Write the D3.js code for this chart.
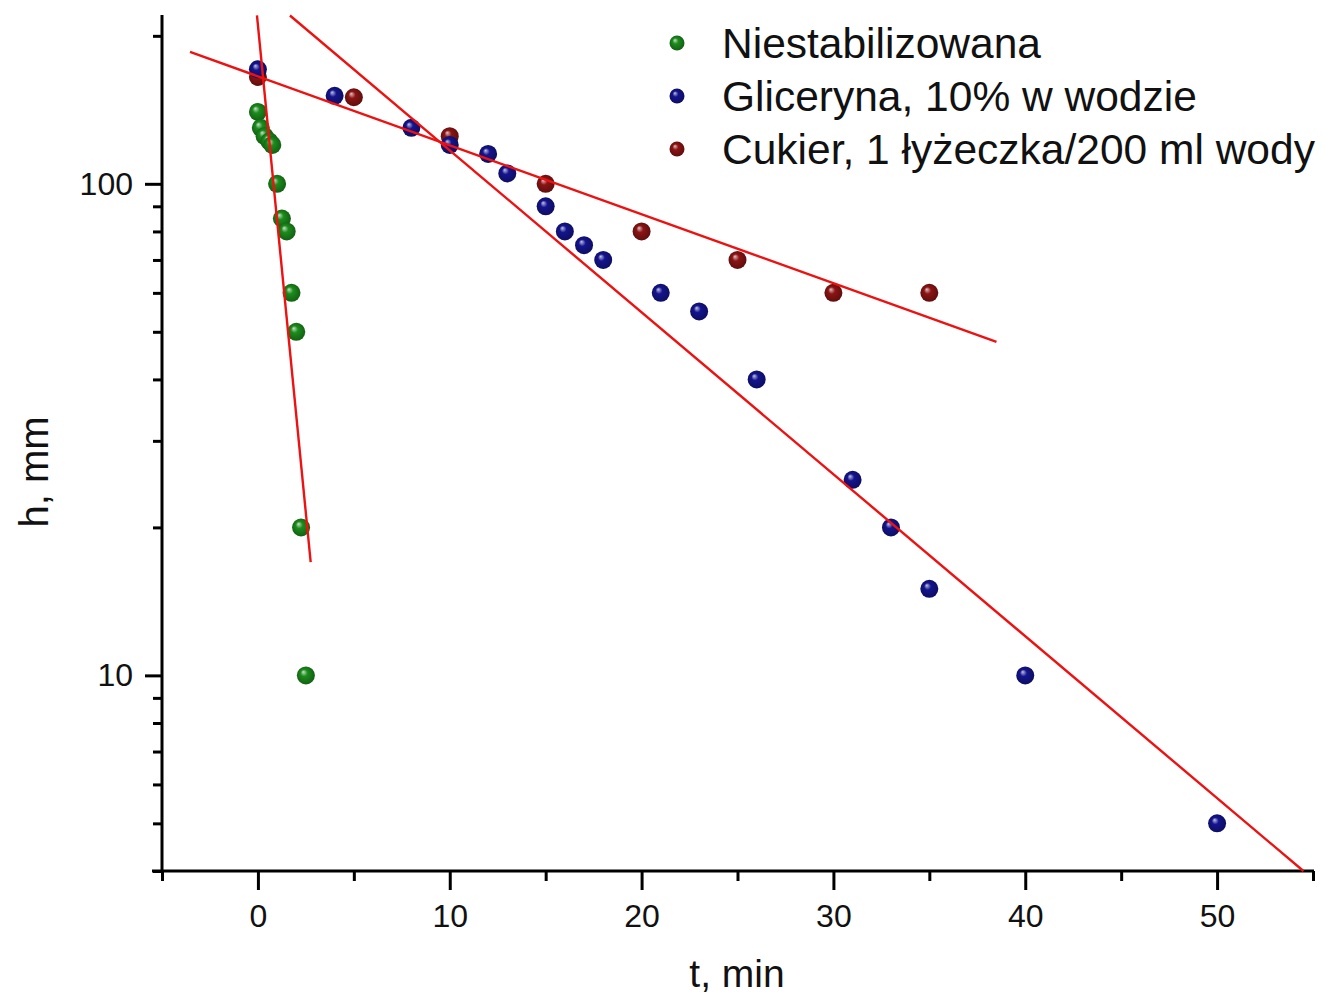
<!DOCTYPE html>
<html>
<head>
<meta charset="utf-8">
<script src="https://cdn.jsdelivr.net/npm/d3@7"></script>
<style>
  body { margin: 0; background: #fff; }
  svg text { font-family: "Liberation Sans", Arial, sans-serif; fill: #111; }
</style>
</head>
<body>
<script>
// ---- data ----
const seriesNames = ["Niestabilizowana", "Gliceryna, 10% w wodzie", "Cukier, 1 łyżeczka/200 ml wody"];
const seriesColors = ["#1c8c1c", "#14148f", "#8c1414"];

const tGreen = [0, 0.15, 0.35, 0.6, 0.75, 1.0, 1.25, 1.5, 1.75, 2.0, 2.25, 2.5];
const hGreen = [140, 130, 125, 122, 120, 100, 85, 80, 60, 50, 20, 10];

const tBlue = [0, 4, 8, 10, 12, 13, 15, 16, 17, 18, 21, 23, 26, 31, 33, 35, 40, 50];
const hBlue = [171, 151, 130, 120, 115, 105, 90, 80, 75, 70, 60, 55, 40, 25, 20, 15, 10, 5];

const tRed = [0, 5, 10, 15, 20, 25, 30, 35];
const hRed = [165, 150, 125, 100, 80, 70, 60, 60];

// fitted lines (endpoints, data units)
const fitGreenT = [-0.05, 2.75], fitGreenH = [220, 17];
const fitBlueT = [1.67, 54.5], fitBlueH = [220, 4];
const fitRedT = [-3.54, 38.5], fitRedH = [185.5, 47.7];

const xTicks = [0, 10, 20, 30, 40, 50];
const xMinor = [-5, 5, 15, 25, 35, 45, 55];
const yTicks = [10, 100];
const yMinor = [4, 5, 6, 7, 8, 9, 20, 30, 40, 50, 60, 70, 80, 90, 200];

// ---- layout ----
const W = 1323, H = 997;
const plotL = 162, plotR = 1313, plotT = 15, plotB = 871;

const svg = d3.select("body").append("svg")
  .attr("width", W).attr("height", H);

const x = d3.scaleLinear().domain([-5, 55]).range([plotL, plotR]);
const y = d3.scaleLog().domain([4, 220.5]).range([plotB, plotT]);

// ball gradients
const defs = svg.append("defs");
seriesColors.forEach((c, i) => {
  const g = defs.append("radialGradient").attr("id", "ball" + i)
    .attr("cx", "50%").attr("cy", "50%").attr("r", "55%")
    .attr("fx", "35%").attr("fy", "30%");
  g.append("stop").attr("offset", "0%").attr("stop-color", d3.interpolateRgb(c, "#fff")(0.75));
  g.append("stop").attr("offset", "35%").attr("stop-color", c);
  g.append("stop").attr("offset", "100%").attr("stop-color", d3.color(c).darker(1.2));
});

// axes
const axX = svg.append("g").attr("transform", `translate(0,${plotB})`)
  .call(d3.axisBottom(x).tickValues(xTicks).tickSize(19).tickPadding(14).tickFormat(d3.format("d")));
axX.selectAll(".tick line").attr("stroke-width", 3);
svg.append("g").attr("transform", `translate(0,${plotB})`)
  .call(d3.axisBottom(x).tickValues(xMinor).tickSize(10).tickFormat(""))
  .selectAll(".tick line").attr("stroke-width", 3);

const axY = svg.append("g").attr("transform", `translate(${plotL},0)`)
  .call(d3.axisLeft(y).tickValues(yTicks).tickSize(17).tickPadding(12).tickFormat(d3.format("d")));
axY.selectAll(".tick line").attr("stroke-width", 3);
svg.append("g").attr("transform", `translate(${plotL},0)`)
  .call(d3.axisLeft(y).tickValues(yMinor).tickSize(9).tickFormat(""))
  .selectAll(".tick line").attr("stroke-width", 3);

svg.selectAll(".domain").remove();
svg.selectAll(".tick text").attr("font-size", 32).attr("fill", "#111")
  .attr("font-family", "Liberation Sans, Arial, sans-serif");

// axis lines
svg.append("line").attr("x1", plotL - 10).attr("x2", plotR + 1)
  .attr("y1", plotB).attr("y2", plotB).attr("stroke", "#000").attr("stroke-width", 3);
svg.append("line").attr("x1", plotL).attr("x2", plotL)
  .attr("y1", plotT).attr("y2", plotB).attr("stroke", "#000").attr("stroke-width", 3);

// axis titles
svg.append("text").attr("x", 737).attr("y", 987).attr("text-anchor", "middle")
  .attr("font-size", 39).text("t, min");
svg.append("text").attr("transform", "translate(48,472) rotate(-90)")
  .attr("text-anchor", "middle").attr("font-size", 40).text("h, mm");

const line = d3.line().x(d => x(d[0])).y(d => y(d[1]));
const fits = [[fitGreenT, fitGreenH], [fitBlueT, fitBlueH], [fitRedT, fitRedH]];

// points
const series = [[tGreen, hGreen], [tBlue, hBlue], [tRed, hRed]];
const drawPts = (i) => {
  const pts = d3.zip(series[i][0], series[i][1]);
  svg.append("g").selectAll("circle").data(pts).join("circle")
    .attr("cx", d => x(d[0])).attr("cy", d => y(d[1])).attr("r", 9)
    .attr("fill", `url(#ball${i})`);
};
drawPts(0); drawPts(2); drawPts(1);

fits.forEach(f => {
  svg.append("path").datum(d3.zip(f[0], f[1]))
    .attr("d", line).attr("fill", "none").attr("stroke", "#ee1111").attr("stroke-width", 2.4);
});

// legend
const leg = svg.append("g");
seriesNames.forEach((name, i) => {
  const yy = 43 + i * 53;
  leg.append("circle").attr("cx", 677).attr("cy", yy).attr("r", 7.5).attr("fill", `url(#ball${i})`);
  leg.append("text").attr("x", 722).attr("y", yy).attr("dy", "0.35em")
    .attr("font-size", 42.5).text(name);
});
</script>
</body>
</html>
